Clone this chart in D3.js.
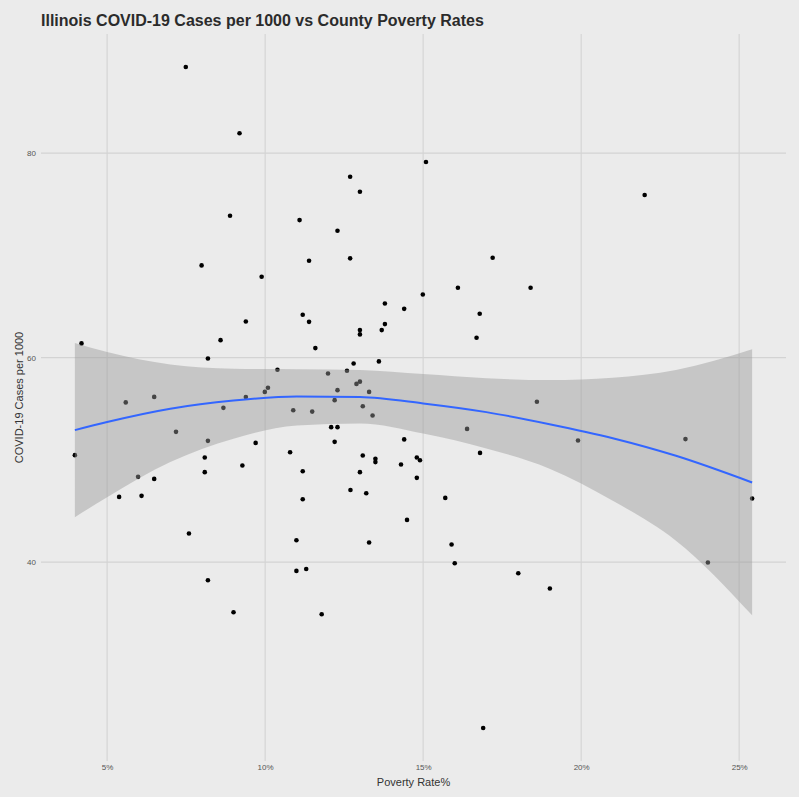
<!DOCTYPE html>
<html>
<head>
<meta charset="utf-8">
<script src="https://cdn.jsdelivr.net/npm/d3@7"></script>
<style>
  body { margin: 0; background: #ebebeb; }
  text { font-family: "Liberation Sans", Arial, sans-serif; }
</style>
</head>
<body>
<svg width="799" height="797"></svg>
<script>
// county poverty rate (%) and covid cases per 1000
const povertyRate = [
  3.98, 4.19, 5.59, 6.49, 7.18, 5.38, 5.98, 6.09, 6.49, 7.59,
  8.19, 8.59, 9.39, 8.19, 8.09, 8.09, 8.68, 9.39, 9.28, 9.70,
  10.39, 10.09, 9.99, 10.89, 11.49, 10.79, 11.19, 11.19, 10.99, 11.39,
  11.59, 7.49, 9.19, 8.89, 7.99, 9.89, 15.09, 12.69, 13.00, 11.09,
  12.29, 11.39, 12.69, 17.20, 16.10, 18.40, 14.99, 13.79, 14.40, 16.79,
  16.69, 11.19, 13.00, 13.00, 13.69, 13.79, 12.80, 13.60, 11.99, 12.59,
  12.29, 12.89, 13.00, 13.29, 12.20, 13.09, 13.40, 18.60, 16.39, 12.09,
  12.29, 12.20, 13.09, 13.49, 13.49, 13.00, 14.40, 14.30, 14.80, 14.90,
  14.80, 16.80, 15.70, 12.70, 13.20, 14.49, 13.29, 15.90, 16.00, 18.01,
  10.99, 11.30, 11.79, 19.90, 19.01, 22.01, 23.30, 25.41, 24.01, 16.90,
  8.19, 9.00
];
const casesPer1000 = [
  50.46, 61.39, 55.62, 56.16, 52.74, 46.38, 48.34, 46.48, 48.14, 42.80,
  59.92, 61.71, 63.54, 51.86, 50.23, 48.80, 55.09, 56.14, 49.45, 51.66,
  58.81, 57.05, 56.65, 54.86, 54.72, 50.75, 48.89, 46.15, 42.14, 63.50,
  60.93, 88.42, 81.94, 73.87, 69.02, 67.91, 79.13, 77.69, 76.22, 73.45,
  72.41, 69.47, 69.71, 69.77, 66.83, 66.83, 66.18, 65.30, 64.77, 64.29,
  61.94, 64.19, 62.69, 62.27, 62.69, 63.28, 59.43, 59.63, 58.45, 58.71,
  56.82, 57.43, 57.65, 56.65, 55.84, 55.25, 54.34, 55.68, 53.03, 53.20,
  53.20, 51.76, 50.43, 50.10, 49.78, 48.80, 52.00, 49.55, 50.23, 49.97,
  48.24, 50.68, 46.28, 47.06, 46.74, 44.13, 41.92, 41.72, 39.89, 38.91,
  39.14, 39.33, 34.90, 51.90, 37.42, 75.90, 52.03, 46.22, 39.96, 23.78,
  38.23, 35.10
];

// loess smooth + 95% band
const smoothX     = [3.98, 5, 7, 9, 11, 13, 15, 17, 19, 21, 23, 25.41];
const smoothFit   = [52.91, 53.7, 55.0, 55.8, 56.2, 56.14, 55.52, 54.67, 53.49, 52.12, 50.4, 47.79];
const smoothLower = [44.39, 46.35, 49.78, 52.07, 53.35, 53.56, 52.58, 51.12, 49.14, 46.0, 42.1, 34.8];
const smoothUpper = [61.42, 60.54, 59.32, 58.92, 58.87, 58.78, 58.39, 57.99, 57.8, 58.04, 58.8, 60.83];

const xTicks = [5, 10, 15, 20, 25];
const yTicks = [40, 60, 80];

const points = povertyRate.map((p, i) => ({ x: p, y: casesPer1000[i] }));
const band = smoothX.map((p, i) => ({ x: p, fit: smoothFit[i], lo: smoothLower[i], hi: smoothUpper[i] }));

const svg = d3.select('svg');
const width = +svg.attr('width');
const height = +svg.attr('height');
const margin = { top: 34, right: 13, bottom: 36, left: 41 };

svg.append('rect')
  .attr('width', width)
  .attr('height', height)
  .attr('fill', '#ebebeb');

// ggplot style 5% expansion
const xExt = d3.extent(povertyRate);
const yExt = d3.extent(casesPer1000);
const xPad = (xExt[1] - xExt[0]) * 0.05;
const yPad = (yExt[1] - yExt[0]) * 0.05;

const x = d3.scaleLinear()
  .domain([xExt[0] - xPad, xExt[1] + xPad])
  .range([margin.left, width - margin.right]);
const y = d3.scaleLinear()
  .domain([yExt[0] - yPad, yExt[1] + yPad])
  .range([height - margin.bottom, margin.top]);

// grid
const grid = svg.append('g').attr('stroke', '#d3d3d3').attr('stroke-width', 1.1);
grid.selectAll('.vg')
  .data(xTicks)
  .enter()
  .append('line')
  .attr('x1', d => x(d)).attr('x2', d => x(d))
  .attr('y1', margin.top).attr('y2', height - margin.bottom);
grid.selectAll('.hg')
  .data(yTicks)
  .enter()
  .append('line')
  .attr('x1', margin.left).attr('x2', width - margin.right)
  .attr('y1', d => y(d)).attr('y2', d => y(d));

// axes (labels only, ggplot has no domain line here)
const xAxis = svg.append('g')
  .attr('transform', `translate(0,${height - margin.bottom})`)
  .call(d3.axisBottom(x).tickValues(xTicks).tickFormat(d => d + '%').tickSize(0).tickPadding(3));
const yAxis = svg.append('g')
  .attr('transform', `translate(${margin.left},0)`)
  .call(d3.axisLeft(y).tickValues(yTicks).tickSize(0).tickPadding(5));
[xAxis, yAxis].forEach(a => {
  a.select('.domain').remove();
  a.selectAll('text')
    .attr('fill', '#555')
    .style('font-size', '8px')
    .style('font-family', '"Liberation Sans", Arial, sans-serif');
});

// points
svg.append('g')
  .selectAll('circle')
  .data(points)
  .enter()
  .append('circle')
  .attr('cx', d => x(d.x))
  .attr('cy', d => y(d.y))
  .attr('r', 2.3)
  .attr('fill', '#000');

// confidence band then fit line
const area = d3.area()
  .x(d => x(d.x))
  .y0(d => y(d.lo))
  .y1(d => y(d.hi))
  .curve(d3.curveMonotoneX);
svg.append('path')
  .datum(band)
  .attr('d', area)
  .attr('fill', '#999999')
  .attr('fill-opacity', 0.45);

const line = d3.line()
  .x(d => x(d.x))
  .y(d => y(d.fit))
  .curve(d3.curveMonotoneX);
svg.append('path')
  .datum(band)
  .attr('d', line)
  .attr('fill', 'none')
  .attr('stroke', '#3366FF')
  .attr('stroke-width', 2);

// titles
svg.append('text')
  .attr('x', 41)
  .attr('y', 26)
  .attr('fill', '#2b2b2b')
  .style('font-size', '16px')
  .style('font-weight', 'bold')
  .text('Illinois COVID-19 Cases per 1000 vs County Poverty Rates');

svg.append('text')
  .attr('x', (margin.left + width - margin.right) / 2)
  .attr('y', 786)
  .attr('text-anchor', 'middle')
  .attr('fill', '#333')
  .style('font-size', '11px')
  .text('Poverty Rate%');

svg.append('text')
  .attr('transform', `translate(23,${(margin.top + height - margin.bottom) / 2}) rotate(-90)`)
  .attr('text-anchor', 'middle')
  .attr('fill', '#333')
  .style('font-size', '11px')
  .text('COVID-19 Cases per 1000');
</script>
</body>
</html>
